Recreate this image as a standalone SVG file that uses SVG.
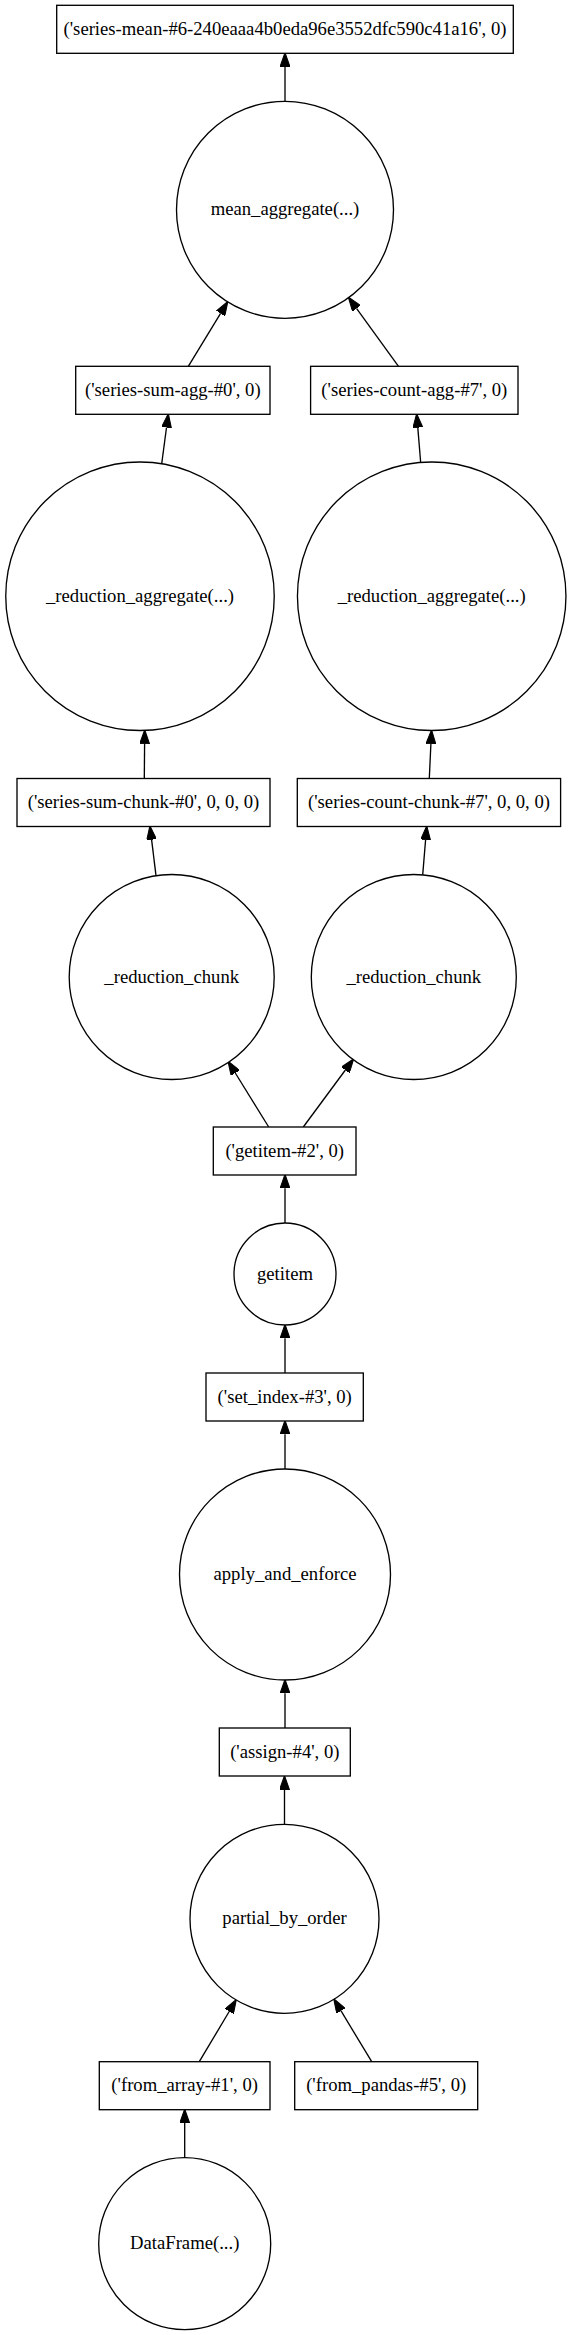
<svg xmlns="http://www.w3.org/2000/svg" width="571" height="2335" viewBox="0 0 571 2335">
<style>
.n rect,.n circle{fill:#fff;stroke:#000;stroke-width:1.33}
.n text{font-family:"Liberation Serif","Times New Roman",serif;font-size:18.67px;text-anchor:middle;fill:#000}
#edges line{stroke:#000;stroke-width:1.33;marker-end:url(#ah)}
</style>
<defs>
<marker id="ah" markerUnits="userSpaceOnUse" markerWidth="14" markerHeight="10" viewBox="0 0 13.33 9.34" refX="0" refY="4.67" orient="auto">
<path d="M0,0 L13.33,4.67 L0,9.34 z" fill="#000" stroke="#000" stroke-width="1"/>
</marker>
</defs>
<rect width="571" height="2335" fill="#fff"/>
<g id="edges">
<line x1="285" y1="101.3" x2="285" y2="66.6"/>
<line x1="188.3" y1="366.3" x2="220.6" y2="313.4"/>
<line x1="398.5" y1="366.3" x2="356.5" y2="308.4"/>
<line x1="161.7" y1="463.8" x2="166.5" y2="427.5"/>
<line x1="420.7" y1="462.7" x2="417.8" y2="427.6"/>
<line x1="144.3" y1="778.5" x2="144.6" y2="743.8"/>
<line x1="429.3" y1="778.5" x2="430.9" y2="743.8"/>
<line x1="156" y1="875.7" x2="151.6" y2="839.7"/>
<line x1="422.7" y1="874.9" x2="425.6" y2="839.8"/>
<line x1="268.7" y1="1127" x2="235.3" y2="1073"/>
<line x1="303.3" y1="1127" x2="345.4" y2="1070"/>
<line x1="285" y1="1223" x2="285" y2="1188.3"/>
<line x1="285" y1="1373" x2="285" y2="1338.3"/>
<line x1="285" y1="1469" x2="285" y2="1434.3"/>
<line x1="285" y1="1728" x2="285" y2="1693.3"/>
<line x1="284.5" y1="1824.3" x2="284.5" y2="1789.6"/>
<line x1="199.3" y1="2061.7" x2="229.2" y2="2011.5"/>
<line x1="371.7" y1="2061.7" x2="340.9" y2="2010.7"/>
<line x1="184.7" y1="2157.7" x2="184.7" y2="2123"/>
</g>
<g id="series-mean" class="n"><rect x="56.7" y="5.3" width="456.6" height="48"/><text x="285" y="34.8">('series-mean-#6-240eaaa4b0eda96e3552dfc590c41a16', 0)</text></g>
<g id="mean-aggregate" class="n"><circle cx="285" cy="209.8" r="108.5"/><text x="285" y="215.3">mean_aggregate(...)</text></g>
<g id="series-sum-agg" class="n"><rect x="75.7" y="366.3" width="194.3" height="48"/><text x="172.85" y="395.8">('series-sum-agg-#0', 0)</text></g>
<g id="series-count-agg" class="n"><rect x="310.6" y="366.3" width="207.4" height="48"/><text x="414.3" y="395.8">('series-count-agg-#7', 0)</text></g>
<g id="reduction-aggregate-sum" class="n"><circle cx="140" cy="596.25" r="134.25"/><text x="140" y="601.75">_reduction_aggregate(...)</text></g>
<g id="reduction-aggregate-count" class="n"><circle cx="431.7" cy="596.25" r="134.25"/><text x="431.7" y="601.75">_reduction_aggregate(...)</text></g>
<g id="series-sum-chunk" class="n"><rect x="17" y="778.5" width="253" height="48"/><text x="143.5" y="808">('series-sum-chunk-#0', 0, 0, 0)</text></g>
<g id="series-count-chunk" class="n"><rect x="297.3" y="778.5" width="263.3" height="48"/><text x="429" y="808">('series-count-chunk-#7', 0, 0, 0)</text></g>
<g id="reduction-chunk-sum" class="n"><circle cx="171.7" cy="977" r="102.5"/><text x="171.7" y="982.5">_reduction_chunk</text></g>
<g id="reduction-chunk-count" class="n"><circle cx="413.8" cy="977" r="102.5"/><text x="413.8" y="982.5">_reduction_chunk</text></g>
<g id="getitem-2" class="n"><rect x="213.3" y="1127" width="142.7" height="48"/><text x="284.7" y="1156.5">('getitem-#2', 0)</text></g>
<g id="getitem" class="n"><circle cx="285" cy="1274" r="51"/><text x="285" y="1279.5">getitem</text></g>
<g id="set-index-3" class="n"><rect x="206" y="1373" width="157.3" height="48"/><text x="284.7" y="1402.5">('set_index-#3', 0)</text></g>
<g id="apply-and-enforce" class="n"><circle cx="285" cy="1574.5" r="105.5"/><text x="285" y="1580">apply_and_enforce</text></g>
<g id="assign-4" class="n"><rect x="219.3" y="1728" width="131" height="48"/><text x="284.8" y="1757.5">('assign-#4', 0)</text></g>
<g id="partial-by-order" class="n"><circle cx="284.5" cy="1918.8" r="94.5"/><text x="284.5" y="1924.3">partial_by_order</text></g>
<g id="from-array-1" class="n"><rect x="99.3" y="2061.7" width="170.7" height="48"/><text x="184.65" y="2091.2">('from_array-#1', 0)</text></g>
<g id="from-pandas-5" class="n"><rect x="294.7" y="2061.7" width="183" height="48"/><text x="386.2" y="2091.2">('from_pandas-#5', 0)</text></g>
<g id="dataframe" class="n"><circle cx="184.7" cy="2243.7" r="86"/><text x="184.7" y="2249.2">DataFrame(...)</text></g>
</svg>
